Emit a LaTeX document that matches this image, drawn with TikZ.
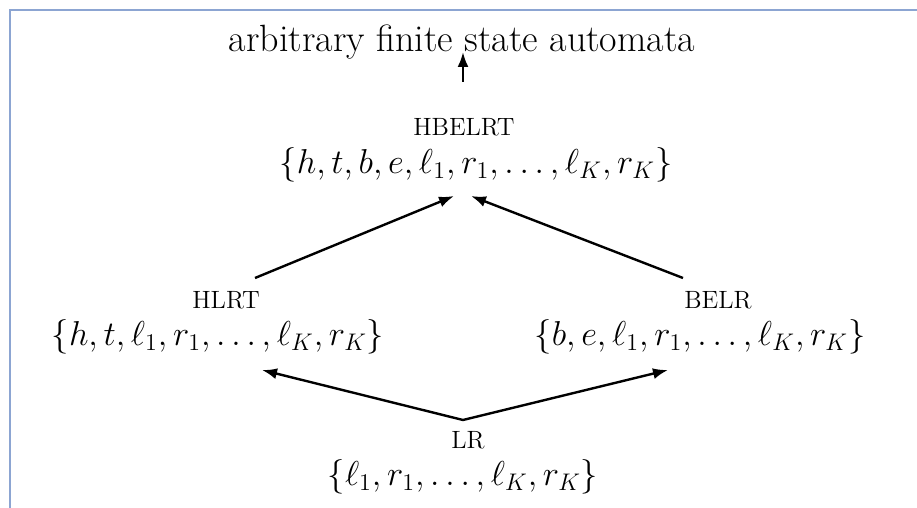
\documentclass[tikz,border=0pt]{standalone}
\usetikzlibrary{arrows.meta}
\begin{document}
\begin{tikzpicture}[x=0.5pt,y=-0.5pt,
  every node/.style={inner sep=0pt,outer sep=0pt},
  big/.style={font=\fontsize{19}{22}\selectfont},
  tag/.style={font=\fontsize{12.5}{15}\selectfont},
  setlbl/.style={font=\fontsize{18.5}{22}\selectfont},
  conn/.style={line width=1.2pt,-{Latex[length=7.5pt,width=5.5pt]}}]
\definecolor{frame}{RGB}{140,165,210}
\useasboundingbox (0,0) rectangle (917,508);
\draw[frame,line width=0.8pt] (10,508) -- (10,10) -- (917,10);
\node[big] (fsa) at (462,42) {arbitrary finite state automata};
\node[tag] (hbelrt) at (464,127) {HBELRT};
\node[setlbl] (shbelrt) at (476,165) {$\{h,t,b,e,\ell_1,r_1,\ldots,\ell_K,r_K\}$};
\node[tag] (hlrt) at (226,300) {HLRT};
\node[setlbl] (shlrt) at (218,337) {$\{h,t,\ell_1,r_1,\ldots,\ell_K,r_K\}$};
\node[tag] (belr) at (718,300) {BELR};
\node[setlbl] (sbelr) at (700,337) {$\{b,e,\ell_1,r_1,\ldots,\ell_K,r_K\}$};
\node[tag] (lr) at (468,440) {LR};
\node[setlbl] (slr) at (463,477) {$\{\ell_1,r_1,\ldots,\ell_K,r_K\}$};
\coordinate (hbtop) at (463,82);
\coordinate (fsatip) at (463,52);
\coordinate (lrapex) at (463,420);
\coordinate (hlrtup) at (255,278);
\coordinate (belrup) at (683,278);
\coordinate (hbl) at (454,196);
\coordinate (hbr) at (471,196);
\coordinate (hlrtdn) at (262,370);
\coordinate (belrdn) at (668,370);
\draw[conn] (hbtop) -- (fsatip);
\draw[conn] (hlrtup) -- (hbl);
\draw[conn] (belrup) -- (hbr);
\draw[conn] (lrapex) -- (hlrtdn);
\draw[conn] (lrapex) -- (belrdn);
\end{tikzpicture}
\end{document}
